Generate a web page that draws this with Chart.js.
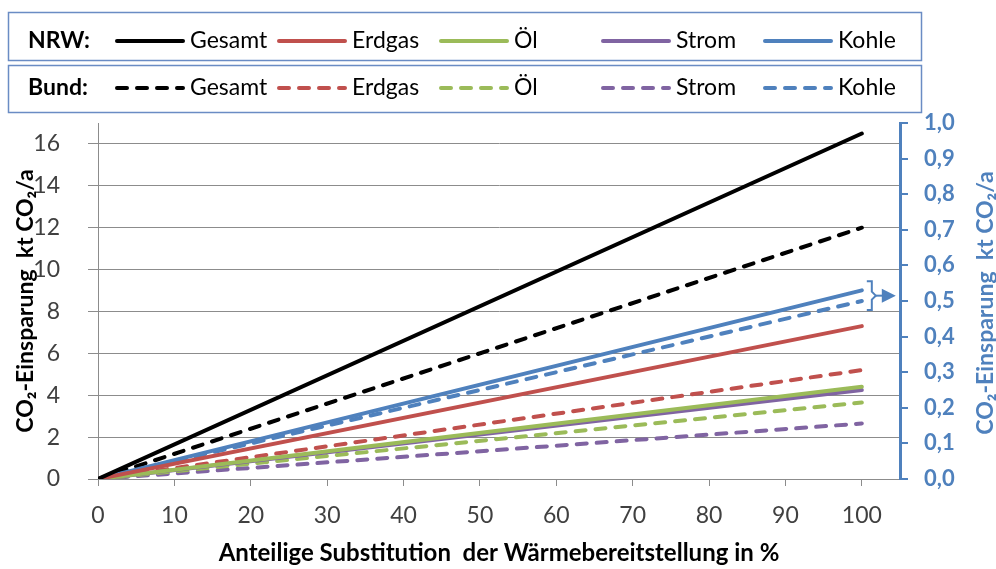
<!DOCTYPE html>
<html>
<head>
<meta charset="utf-8">
<script src="https://cdn.jsdelivr.net/npm/chart.js@4.4.1/dist/chart.umd.min.js"></script>
<style>
  html, body { margin: 0; padding: 0; background: #fff; }
  #wrap { width: 996px; height: 569px; }
</style>
</head>
<body>
<div id="wrap"><canvas id="myChart"></canvas></div>
<script>
// x values: share of substituted heat supply in %
const substitution = [0, 100];

// NRW (solid lines), kt CO2/a
const nrwGesamt = [0, 16.5];
const nrwErdgas = [0, 7.3];
const nrwOel = [0, 4.4];
const nrwStrom = [0, 4.25];
const nrwKohle = [0, 0.53]; // right axis

// Bund (dashed lines)
const bundGesamt = [0, 12.0];
const bundErdgas = [0, 5.2];
const bundOel = [0, 3.65];
const bundStrom = [0, 2.65];
const bundKohle = [0, 0.5]; // right axis

const yTitle = 'CO₂-Einsparung  kt CO₂/a';
const FONT = 'Lato';
const BLUE = '#4F81BD';
const GRAY = '#8c8c8c';

const toPoints = values => substitution.map((x, i) => ({ x: x, y: values[i] }));

function series(label, group, values, color, axis) {
  return {
    label: label,
    group: group,
    data: toPoints(values),
    borderColor: color,
    backgroundColor: color,
    borderWidth: 4,
    borderDash: group === 'Bund' ? [10, 10] : [],
    borderCapStyle: 'round',
    yAxisID: axis || 'y',
    pointRadius: 0,
  };
}

const datasets = [
  series('Gesamt', 'NRW', nrwGesamt, '#000000'),
  series('Erdgas', 'NRW', nrwErdgas, '#C0504D'),
  series('Öl', 'NRW', nrwOel, '#9BBB59'),
  series('Strom', 'NRW', nrwStrom, '#8064A2'),
  series('Kohle', 'NRW', nrwKohle, BLUE, 'y1'),
  series('Gesamt', 'Bund', bundGesamt, '#000000'),
  series('Erdgas', 'Bund', bundErdgas, '#C0504D'),
  series('Öl', 'Bund', bundOel, '#9BBB59'),
  series('Strom', 'Bund', bundStrom, '#8064A2'),
  series('Kohle', 'Bund', bundKohle, BLUE, 'y1'),
];

// Two boxed legend rows (NRW solid / Bund dashed)
const legendBoxes = {
  id: 'legendBoxes',
  afterDraw(chart) {
    const ctx = chart.ctx;
    const rows = [
      { name: 'NRW:', group: 'NRW', top: 12, bottom: 60, mid: 41 },
      { name: 'Bund:', group: 'Bund', top: 65, bottom: 112, mid: 88 },
    ];
    ctx.save();
    rows.forEach(row => {
      ctx.strokeStyle = '#6a8cc4';
      ctx.lineWidth = 1.5;
      ctx.setLineDash([]);
      ctx.strokeRect(8.5, row.top + 0.5, 913, row.bottom - row.top);

      ctx.fillStyle = '#000';
      ctx.textBaseline = 'middle';
      ctx.font = 'bold 23px ' + FONT;
      ctx.fillText(row.name, 28, row.mid);

      chart.data.datasets.filter(d => d.group === row.group).forEach((d, i) => {
        const x0 = 117 + i * 162;
        ctx.beginPath();
        ctx.strokeStyle = d.borderColor;
        ctx.lineWidth = 4;
        ctx.lineCap = 'round';
        ctx.setLineDash(d.borderDash);
        ctx.moveTo(x0, row.mid);
        ctx.lineTo(x0 + 66, row.mid);
        ctx.stroke();
        ctx.setLineDash([]);
        ctx.fillStyle = '#000';
        ctx.font = '23px ' + FONT;
        ctx.fillText(d.label, x0 + 73, row.mid);
      });
    });

    // right axis title, reading bottom to top
    const y1 = chart.scales.y1;
    ctx.translate(986, (y1.top + y1.bottom) / 2 + 2);
    ctx.rotate(-Math.PI / 2);
    ctx.textAlign = 'center';
    ctx.textBaseline = 'middle';
    ctx.fillStyle = BLUE;
    ctx.font = 'bold 23px ' + FONT;
    ctx.fillText(yTitle, 0, 0);
    ctx.restore();
  }
};

// Bracket + arrow pointing the Kohle lines to the right axis
const kohleBracket = {
  id: 'kohleBracket',
  afterDatasetsDraw(chart) {
    const { ctx, scales: { x, y1 } } = chart;
    const xb = x.getPixelForValue(substitution[substitution.length - 1]) + 5;
    const yTop = y1.getPixelForValue(nrwKohle[nrwKohle.length - 1]) - 9;
    const yBot = y1.getPixelForValue(bundKohle[bundKohle.length - 1]) + 9;
    const mid = (yTop + yBot) / 2;
    ctx.save();
    ctx.strokeStyle = BLUE;
    ctx.fillStyle = BLUE;
    ctx.lineWidth = 2;
    ctx.beginPath();
    ctx.moveTo(xb, yTop);
    ctx.lineTo(xb + 5, yTop);
    ctx.lineTo(xb + 5, mid - 4);
    ctx.lineTo(xb + 9, mid);
    ctx.lineTo(xb + 5, mid + 4);
    ctx.lineTo(xb + 5, yBot);
    ctx.lineTo(xb, yBot);
    ctx.stroke();
    ctx.beginPath();
    ctx.moveTo(xb + 9, mid);
    ctx.lineTo(xb + 16, mid);
    ctx.stroke();
    ctx.beginPath();
    ctx.moveTo(xb + 15, mid - 7);
    ctx.lineTo(xb + 29, mid);
    ctx.lineTo(xb + 15, mid + 7);
    ctx.closePath();
    ctx.fill();
    ctx.restore();
  }
};

const ctx = document.getElementById('myChart').getContext('2d');

new Chart(ctx, {
  type: 'line',
  data: { datasets: datasets },
  options: {
    responsive: true,
    maintainAspectRatio: false,
    animation: false,
    layout: { padding: { top: 123, left: 0, right: 0, bottom: 0 } },
    plugins: {
      legend: { display: false },
      tooltip: { enabled: false },
    },
    scales: {
      x: {
        type: 'linear',
        min: 0,
        max: 105,
        afterBuildTicks: s => { s.ticks = s.ticks.filter(t => t.value <= 100 && t.value % 10 === 0); },
        afterFit: s => { s.height = 90; },
        ticks: { stepSize: 10, includeBounds: false, color: '#404040', font: { family: FONT, size: 23 }, padding: 16 },
        grid: { drawOnChartArea: false, color: GRAY, tickLength: 7 },
        border: { color: GRAY, width: 1 },
        title: {
          display: true,
          text: 'Anteilige Substitution  der Wärmebereitstellung in %',
          color: '#000',
          font: { family: FONT, size: 24, weight: 'bold' },
          padding: { top: 0, bottom: 1 },
        },
      },
      y: {
        position: 'left',
        min: 0,
        max: 17,
        afterBuildTicks: s => { s.ticks = s.ticks.filter(t => t.value <= 16 && t.value % 2 === 0); },
        afterFit: s => { s.width = 98; },
        ticks: { stepSize: 2, includeBounds: false, color: '#404040', font: { family: FONT, size: 23 }, padding: 28 },
        grid: { color: GRAY, lineWidth: 1, tickLength: 10 },
        border: { color: GRAY, width: 1 },
        title: {
          display: true,
          text: yTitle,
          color: '#000',
          font: { family: FONT, size: 23, weight: 'bold' },
          padding: { top: 12, bottom: 0 },
        },
      },
      y1: {
        position: 'right',
        min: 0,
        max: 1,
        afterFit: s => { s.width = 96; },
        ticks: {
          stepSize: 0.1,
          color: BLUE,
          font: { family: FONT, size: 22, weight: 'bold' },
          padding: 16,
          callback: v => v.toFixed(1).replace('.', ','),
        },
        grid: { drawOnChartArea: false, color: BLUE, lineWidth: 2, tickLength: 8 },
        border: { color: BLUE, width: 3 },
        title: { display: false },
      },
    },
  },
  plugins: [kohleBracket, legendBoxes],
});
</script>
</body>
</html>
